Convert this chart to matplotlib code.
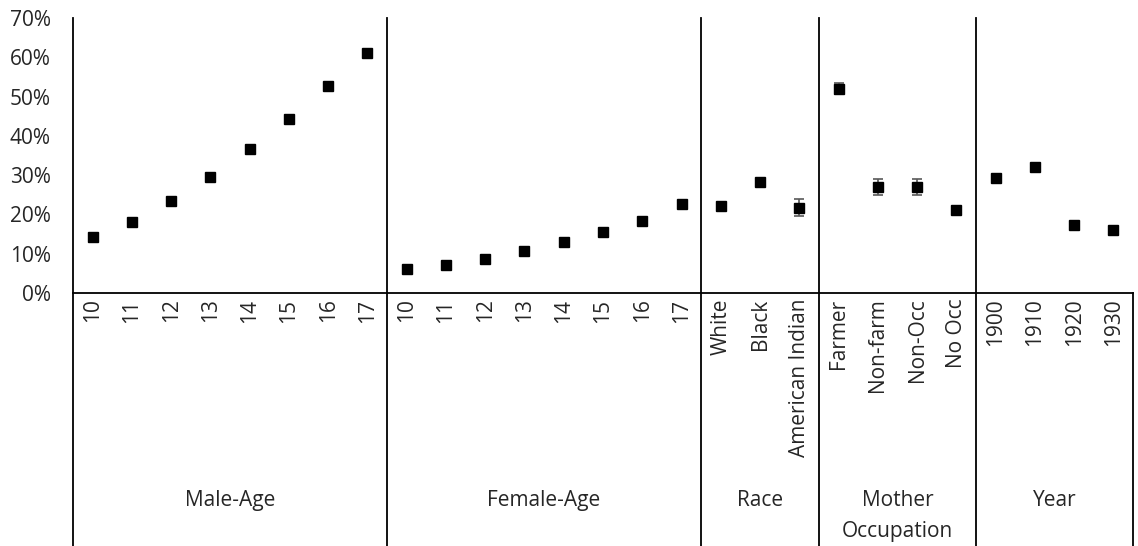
import numpy as np
import matplotlib
matplotlib.use("Agg")
from matplotlib import pyplot as plt

plt.rcParams['font.family'] = ['Open Sans', 'DejaVu Sans']

# groups and categories
groups = ["Male-Age", "Female-Age", "Race", "Mother\nOccupation", "Year"]
cats_male = ["10", "11", "12", "13", "14", "15", "16", "17"]
cats_female = ["10", "11", "12", "13", "14", "15", "16", "17"]
cats_race = ["White", "Black", "American Indian"]
cats_mother = ["Farmer", "Non-farm", "Non-Occ", "No Occ"]
cats_year = ["1900", "1910", "1920", "1930"]

# shares (fraction)
val_male = [0.143, 0.181, 0.233, 0.296, 0.366, 0.444, 0.527, 0.611]
val_female = [0.060, 0.071, 0.087, 0.108, 0.129, 0.155, 0.183, 0.226]
val_race = [0.221, 0.282, 0.217]
val_mother = [0.520, 0.270, 0.270, 0.212]
val_year = [0.293, 0.321, 0.174, 0.160]

# error bar half-widths
err_male = [0.004, 0.004, 0.004, 0.004, 0.004, 0.005, 0.005, 0.005]
err_female = [0.003, 0.003, 0.003, 0.003, 0.004, 0.004, 0.004, 0.006]
err_race = [0.003, 0.004, 0.022]
err_mother = [0.014, 0.020, 0.020, 0.004]
err_year = [0.003, 0.003, 0.003, 0.003]

cat_lists = [cats_male, cats_female, cats_race, cats_mother, cats_year]
labels = sum(cat_lists, [])
values = np.array(val_male + val_female + val_race + val_mother + val_year)
errors = np.array(err_male + err_female + err_race + err_mother + err_year)
x = np.arange(len(labels))

W, H = 1138, 546
fig = plt.figure(figsize=(W / 100, H / 100), dpi=100)
ax_left, ax_right, ax_top, ax_bot = 73, 1133, 18, 293
ax = fig.add_axes([ax_left / W, 1 - ax_bot / H, (ax_right - ax_left) / W, (ax_bot - ax_top) / H])

txt = '#262626'
fs = 15
ax.errorbar(x, values, yerr=errors, fmt='none', ecolor='#595959', elinewidth=1.2, capsize=3.5, capthick=1.2, zorder=2)
ax.plot(x, values, 's', color='black', markersize=7, zorder=3)

ax.set_xlim(-0.5, len(labels) - 0.5)
ax.set_ylim(0, 0.7)
ax.set_yticks(np.arange(0, 0.71, 0.1))
ax.set_yticklabels([f"{int(round(t * 100))}%" for t in np.arange(0, 0.71, 0.1)], fontsize=fs, color=txt)
ax.set_xticks(x)
ax.set_xticklabels(labels, rotation=90, va='top', ha='center', fontsize=fs, color=txt)
ax.tick_params(axis='y', length=0, pad=16)
ax.tick_params(axis='x', length=0, pad=4)

for s in ['top', 'right', 'left']:
    ax.spines[s].set_visible(False)
ax.spines['bottom'].set_linewidth(1.3)
ax.spines['bottom'].set_color('black')

# separators running down through the label area
ybottom = -(H - ax_bot) / (ax_bot - ax_top)
trans = ax.get_xaxis_transform()
sizes = [len(c) for c in cat_lists]
edges = np.concatenate([[0], np.cumsum(sizes)]) - 0.5
for i, e in enumerate(edges):
    ytop = 0 if i == len(edges) - 1 else 1
    ax.plot([e, e], [ybottom, ytop], color='black', lw=1.3, transform=trans, clip_on=False)

# group labels
for g, lo, hi in zip(groups, edges[:-1], edges[1:]):
    ax.text((lo + hi) / 2, -(490 - ax_bot) / (ax_bot - ax_top), g, transform=trans,
            ha='center', va='top', fontsize=fs, color=txt, linespacing=1.6)

fig.savefig("out.png", dpi=100)
